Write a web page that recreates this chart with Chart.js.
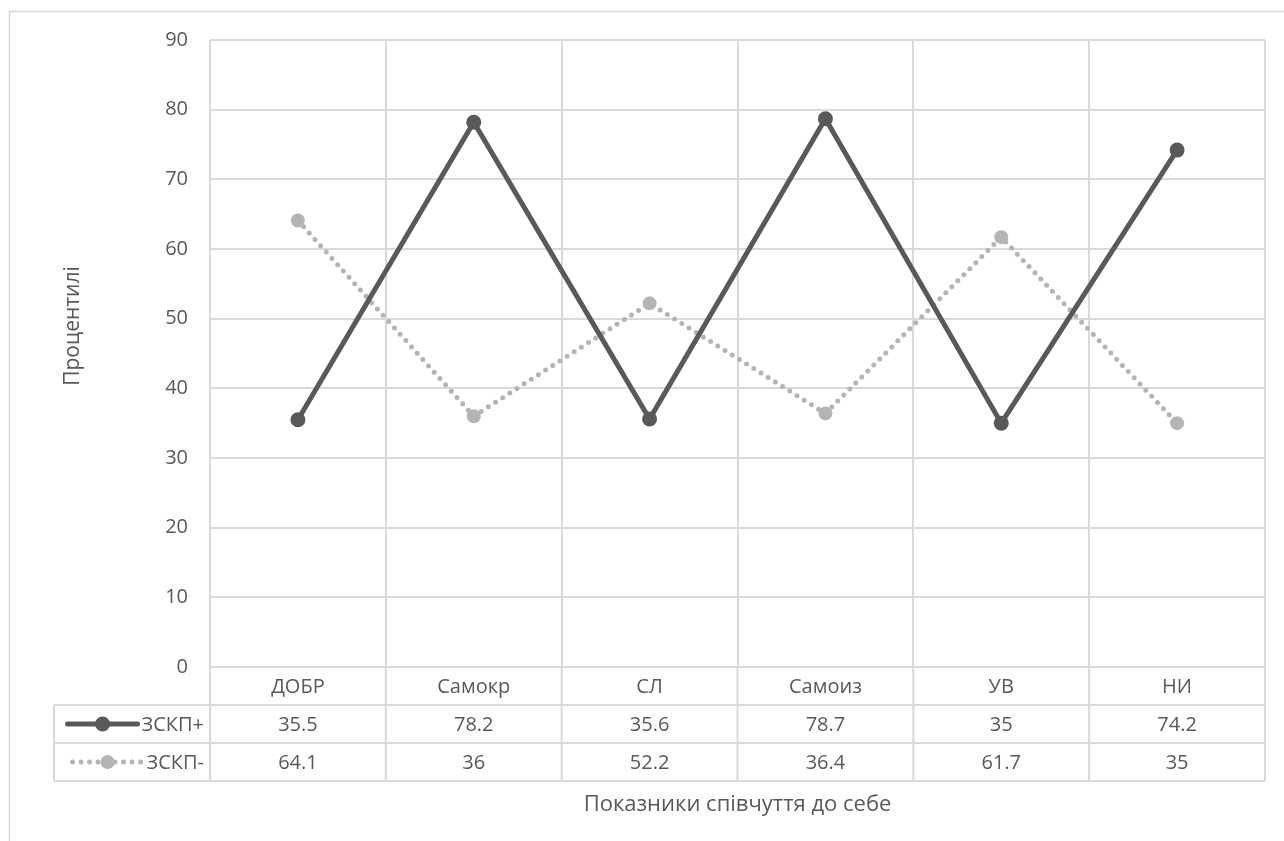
<!DOCTYPE html>
<html>
<head>
<meta charset="utf-8">
<script src="https://cdn.jsdelivr.net/npm/chart.js@4/dist/chart.umd.min.js"></script>
<style>
  html, body { margin: 0; padding: 0; background: #fff; }
  #wrap { width: 1284px; height: 841px; position: relative; }
</style>
</head>
<body>
<div id="wrap"><canvas id="chart"></canvas></div>
<script>
// Category names (self-compassion indicators)
const categories = ['ДОБР', 'Самокр', 'СЛ', 'Самоиз', 'УВ', 'НИ'];
// Series names
const seriesPlusName = 'ЗСКП+';
const seriesMinusName = 'ЗСКП-';
// Percentile values per indicator
const seriesPlus = [35.5, 78.2, 35.6, 78.7, 35, 74.2];
const seriesMinus = [64.1, 36, 52.2, 36.4, 61.7, 35];
// Axis titles
const yTitle = 'Процентилі';
const xTitle = 'Показники співчуття до себе';

const FONT = '"Open Sans", "DejaVu Sans", sans-serif';
const TEXT = '#595959';
const GRID = '#d9d9d9';
const DARK = '#595959';
const LIGHT = '#b4b4b4';
const FS = 20;
const TITLE_FS = 22;
const ROW_H = 38;

// Data table under the plot, outer frame and axis titles
const tablePlugin = {
  id: 'dataTable',
  afterDraw(chart) {
    const { ctx, chartArea: ca, scales: { x } } = chart;
    const n = categories.length;
    const step = (ca.right - ca.left) / n;
    const bounds = [];
    for (let i = 0; i <= n; i++) bounds.push(ca.left + step * i);
    const r0 = ca.bottom, r1 = r0 + ROW_H, r2 = r1 + ROW_H, r3 = r2 + ROW_H;
    const legendLeft = 54;

    ctx.save();
    // outer frame (top and left edges visible)
    ctx.strokeStyle = GRID;
    ctx.lineWidth = 1.5;
    ctx.beginPath();
    ctx.moveTo(9.5, 860);
    ctx.lineTo(9.5, 11.5);
    ctx.lineTo(1300, 11.5);
    ctx.stroke();

    // table grid
    ctx.strokeStyle = GRID;
    ctx.lineWidth = 2;
    ctx.beginPath();
    bounds.forEach(bx => { ctx.moveTo(bx, r0); ctx.lineTo(bx, r3); });
    ctx.moveTo(legendLeft, r1); ctx.lineTo(legendLeft, r3);
    [r1, r2, r3].forEach(ry => { ctx.moveTo(legendLeft, ry); ctx.lineTo(ca.right, ry); });
    ctx.stroke();

    // cell text
    ctx.fillStyle = TEXT;
    ctx.font = FS + 'px ' + FONT;
    ctx.textAlign = 'center';
    ctx.textBaseline = 'middle';
    categories.forEach((c, i) => {
      const cx = x.getPixelForValue(i);
      ctx.fillText(c, cx, (r0 + r1) / 2 + 1);
      ctx.fillText(String(seriesPlus[i]), cx, (r1 + r2) / 2 + 1);
      ctx.fillText(String(seriesMinus[i]), cx, (r2 + r3) / 2 + 1);
    });

    // legend keys in the first column
    const drawKey = (label, ds, yMid) => {
      ctx.font = FS + 'px ' + FONT;
      ctx.textAlign = 'right';
      ctx.fillStyle = TEXT;
      const tx = ca.left - 6;
      ctx.fillText(label, tx, yMid + 1);
      const tw = ctx.measureText(label).width;
      const x1 = tx - tw - 4, x0 = Math.max(legendLeft + 10, x1 - 70), xm = (x0 + x1) / 2;
      ctx.strokeStyle = ds.borderColor;
      ctx.lineWidth = ds.borderWidth;
      ctx.lineCap = 'round';
      ctx.setLineDash(ds.borderDash || []);
      ctx.beginPath();
      ctx.moveTo(x0, yMid); ctx.lineTo(x1, yMid);
      ctx.stroke();
      ctx.setLineDash([]);
      ctx.fillStyle = ds.pointBackgroundColor;
      ctx.beginPath();
      ctx.arc(xm, yMid, ds.pointRadius, 0, Math.PI * 2);
      ctx.fill();
    };
    const dsets = chart.data.datasets;
    drawKey(seriesPlusName, dsets[0], (r1 + r2) / 2);
    drawKey(seriesMinusName, dsets[1], (r2 + r3) / 2);

    // axis titles
    ctx.fillStyle = TEXT;
    ctx.font = TITLE_FS + 'px ' + FONT;
    ctx.textAlign = 'center';
    ctx.textBaseline = 'middle';
    ctx.fillText(xTitle, (ca.left + ca.right) / 2, r3 + 24);
    ctx.font = (TITLE_FS - 1) + 'px ' + FONT;
    ctx.translate(73, 326);
    ctx.rotate(-Math.PI / 2);
    ctx.fillText(yTitle, 0, 0);
    ctx.restore();
  }
};

new Chart(document.getElementById('chart'), {
  type: 'line',
  data: {
    labels: categories,
    datasets: [
      {
        label: seriesPlusName,
        data: seriesPlus,
        borderColor: DARK,
        borderWidth: 5,
        pointRadius: 7.5,
        pointBackgroundColor: DARK,
        pointBorderColor: DARK,
        pointBorderWidth: 0,
        tension: 0
      },
      {
        label: seriesMinusName,
        data: seriesMinus,
        borderColor: LIGHT,
        borderWidth: 5,
        borderDash: [0, 8.5],
        borderCapStyle: 'round',
        pointRadius: 7,
        pointBackgroundColor: LIGHT,
        pointBorderColor: LIGHT,
        pointBorderWidth: 0,
        tension: 0
      }
    ]
  },
  options: {
    responsive: true,
    maintainAspectRatio: false,
    animation: false,
    layout: { padding: { left: 0, top: 40, right: 19, bottom: 174 } },
    plugins: { legend: { display: false }, tooltip: { enabled: false } },
    scales: {
      x: {
        type: 'category',
        offset: true,
        ticks: { display: false },
        border: { display: false },
        grid: { offset: true, color: GRID, lineWidth: 2, drawTicks: false },
        afterFit(scale) { scale.height = 0; }
      },
      y: {
        min: 0,
        max: 90,
        ticks: { stepSize: 10, color: TEXT, font: { family: FONT, size: FS }, padding: 22 },
        border: { display: false },
        grid: { color: GRID, lineWidth: 2, drawTicks: false },
        afterFit(scale) { scale.width = 210; }
      }
    }
  },
  plugins: [tablePlugin]
});
</script>
</body>
</html>
